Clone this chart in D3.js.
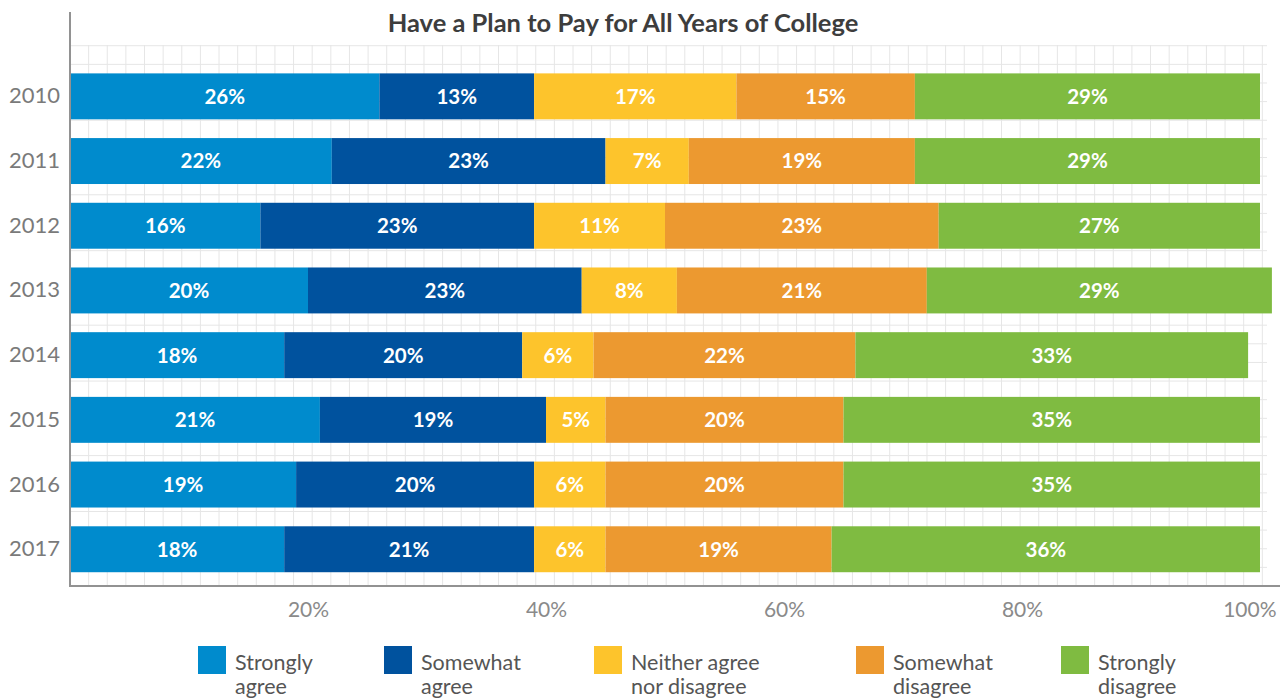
<!DOCTYPE html>
<html>
<head>
<meta charset="utf-8">
<script src="https://cdn.jsdelivr.net/npm/d3@7"></script>
<style>
  body { margin: 0; background: #fff; }
  text { font-family: Lato, "Open Sans", sans-serif; }
</style>
</head>
<body>
<div id="chart"></div>
<script>
// data
const years = ["2010", "2011", "2012", "2013", "2014", "2015", "2016", "2017"];
const categories = ["Strongly agree", "Somewhat agree", "Neither agree nor disagree", "Somewhat disagree", "Strongly disagree"];
const stronglyAgree    = [26, 22, 16, 20, 18, 21, 19, 18];
const somewhatAgree    = [13, 23, 23, 23, 20, 19, 20, 21];
const neither          = [17,  7, 11,  8,  6,  5,  6,  6];
const somewhatDisagree = [15, 19, 23, 21, 22, 20, 20, 19];
const stronglyDisagree = [29, 29, 27, 29, 33, 35, 35, 36];
const xTicks = [20, 40, 60, 80, 100];
const legendLines = [["Strongly", "agree"], ["Somewhat", "agree"], ["Neither agree", "nor disagree"], ["Somewhat", "disagree"], ["Strongly", "disagree"]];

const colors = ["#008bcd", "#00529e", "#fdc42c", "#ec9930", "#7fbb41"];

function init() {
    const W = 1280, H = 698;
    const left = 70, right = 1260, top = 64, bottom = 586;

    const svg = d3.select("#chart").append("svg")
        .attr("width", W).attr("height", H);

    const x = d3.scaleLinear().domain([0, 100]).range([left, right]);
    const y = d3.scaleBand().domain(years).range([top, top + 8 * 64.7]).paddingInner(0.29).paddingOuter(0.145);

    // background grid
    const step = 18.63;
    const grid = svg.append("g").attr("stroke", "#e6e6e6").attr("stroke-width", 1);
    for (let k = 1; k <= 64; k++) {
        grid.append("line")
            .attr("x1", left + k * step).attr("x2", left + k * step)
            .attr("y1", 45).attr("y2", bottom);
    }
    for (let k = 1; k <= 29; k++) {
        grid.append("line")
            .attr("x1", left).attr("x2", 1267)
            .attr("y1", bottom - k * step).attr("y2", bottom - k * step);
    }

    // stack the series
    const rows = years.map((yr, i) => ({
        year: yr,
        s0: stronglyAgree[i], s1: somewhatAgree[i], s2: neither[i], s3: somewhatDisagree[i], s4: stronglyDisagree[i]
    }));
    const keys = ["s0", "s1", "s2", "s3", "s4"];
    const series = d3.stack().keys(keys)(rows);

    const layers = svg.append("g").selectAll("g")
        .data(series)
        .join("g")
        .attr("fill", (d, i) => colors[i]);

    layers.selectAll("rect")
        .data(d => d)
        .join("rect")
        .attr("x", d => x(d[0]) + (d[0] === 0 ? 1 : 0))
        .attr("y", d => y(d.data.year))
        .attr("width", d => x(d[1]) - x(d[0]) - (d[0] === 0 ? 1 : 0))
        .attr("height", y.bandwidth());

    layers.selectAll("text")
        .data(d => d)
        .join("text")
        .attr("x", d => (x(d[0]) + x(d[1])) / 2)
        .attr("y", d => y(d.data.year) + y.bandwidth() / 2)
        .attr("dy", "0.36em")
        .attr("text-anchor", "middle")
        .attr("fill", "#fff")
        .attr("font-weight", 700)
        .attr("font-size", 20.5)
        .text(d => (d[1] - d[0]) + "%");

    // axes
    const xAxis = svg.append("g")
        .attr("transform", "translate(0," + bottom + ")")
        .call(d3.axisBottom(x).tickValues(xTicks).tickFormat(d => d + "%").tickSize(0).tickPadding(16));
    xAxis.select(".domain").remove();
    xAxis.selectAll("text").attr("font-size", 21).attr("fill", "#8a8a8a")
        .attr("font-family", "Lato, sans-serif");
    xAxis.selectAll(".tick").filter(d => d === 100).select("text")
        .attr("text-anchor", "end").attr("x", 16);

    const yAxis = svg.append("g")
        .attr("transform", "translate(" + left + ",0)")
        .call(d3.axisLeft(y).tickSize(0).tickPadding(10));
    yAxis.select(".domain").remove();
    yAxis.selectAll("text").attr("font-size", 22).attr("fill", "#7a7a7a")
        .attr("font-family", "Lato, sans-serif");

    svg.append("line")
        .attr("x1", left).attr("x2", left).attr("y1", 12).attr("y2", bottom + 1)
        .attr("stroke", "#929292").attr("stroke-width", 2);
    svg.append("line")
        .attr("x1", left - 1).attr("x2", W).attr("y1", bottom).attr("y2", bottom)
        .attr("stroke", "#929292").attr("stroke-width", 2);

    // title
    svg.append("text")
        .attr("x", 623).attr("y", 32)
        .attr("text-anchor", "middle")
        .attr("font-size", 25.5).attr("font-weight", 700).attr("fill", "#3d3d3d")
        .text("Have a Plan to Pay for All Years of College");

    // legend
    const legendX = [198, 384, 594, 856, 1061];
    const legend = svg.append("g").selectAll("g")
        .data(categories)
        .join("g")
        .attr("transform", (d, i) => "translate(" + legendX[i] + ",646)");
    legend.append("rect")
        .attr("width", 28).attr("height", 28)
        .attr("fill", (d, i) => colors[i]);
    legend.append("text")
        .attr("x", 37).attr("y", 24)
        .attr("font-size", 21.5).attr("fill", "#555")
        .selectAll("tspan")
        .data((d, i) => legendLines[i])
        .join("tspan")
        .attr("x", 37)
        .attr("dy", (d, j) => j === 0 ? 0 : 24)
        .text(d => d);
}

window.addEventListener('load', init);
</script>
</body>
</html>
